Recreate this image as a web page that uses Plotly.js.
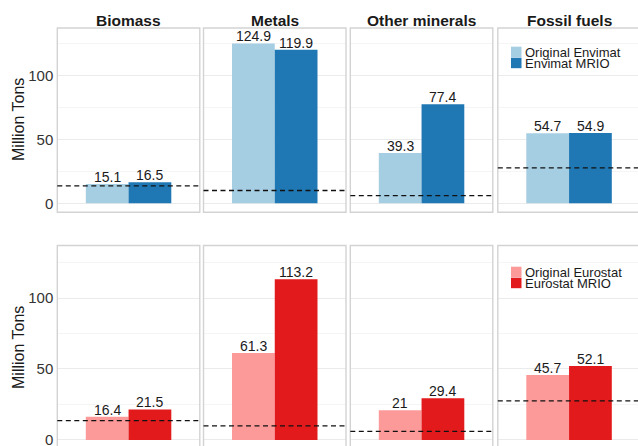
<!DOCTYPE html>
<html>
<head>
<meta charset="utf-8">
<script src="https://cdn.plot.ly/plotly-3.0.1.min.js"></script>
<style>
  html, body { margin: 0; padding: 0; background: #fff; }
  #chart { width: 638px; height: 446px; }
</style>
</head>
<body>
<div id="chart"></div>
<script>
// Material categories (one facet column each)
const categories = ["Biomass", "Metals", "Other minerals", "Fossil fuels"];

// Envimat row (million tons)
const envimatOriginal = [15.1, 124.9, 39.3, 54.7];
const envimatMRIO     = [16.5, 119.9, 77.4, 54.9];

// Eurostat row (million tons)
const eurostatOriginal = [16.4, 61.3, 21, 45.7];
const eurostatMRIO     = [21.5, 113.2, 29.4, 52.1];

// Dashed reference level per category
const referenceLevel = [13.6, 10.0, 6.0, 27.6];

const yTickVals = [0, 50, 100];
const yTickText = ["0", "50", "100"];
const yAxisTitle = "Million Tons";

const rows = [
  { names: ["Original Envimat", "Envimat MRIO"], series: [envimatOriginal, envimatMRIO],
    colors: ["#a6cee3", "#1f78b4"] },
  { names: ["Original Eurostat", "Eurostat MRIO"], series: [eurostatOriginal, eurostatMRIO],
    colors: ["#fb9a99", "#e31a1c"] }
];

// ---- layout geometry (pixels) ----
const W = 638, H = 446;
const fx = p => p / W;
const fy = p => 1 - p / H;
const panelLeft = [57.3, 203.5, 350.3, 497.8];
const panelW = 142.5;
const BARGAP = 0.4;
// half of one bar's width, in pixels: bar centres sit this far from the category centre
const barHalf = (1 - BARGAP) / 4 * panelW;
// per row: top, bottom (full panel), visible bottom, y value range
const rowGeom = [
  { top: 28, bottom: 212.3, visBottom: 212.3, range: [-7.03, 136.95], title: 120 },
  { top: 245.5, bottom: 449.7, visBottom: 446, range: [-4.23, 136.97], title: 348 }
];

const font = "Liberation Sans, Arial, sans-serif";
const traces = [];
const layout = {
  width: W, height: H,
  margin: { l: 0, r: 0, t: 0, b: 0 },
  paper_bgcolor: "#fff", plot_bgcolor: "#fff",
  showlegend: false,
  barmode: "group", bargap: BARGAP, bargroupgap: 0,
  font: { family: font, color: "#1a1a1a" },
  shapes: [], annotations: []
};

rows.forEach((row, r) => {
  const g = rowGeom[r];
  categories.forEach((cat, c) => {
    const k = r * 4 + c + 1;
    const ax = k === 1 ? "" : String(k);
    const L = panelLeft[c];
    const R = Math.min(L + panelW, W);
    const visFrac = (R - L) / panelW;

    row.series.forEach((vals, s) => {
      traces.push({
        type: "bar",
        x: [cat], y: [vals[c]],
        name: row.names[s],
        xaxis: "x" + ax, yaxis: "y" + ax,
        marker: { color: row.colors[s], line: { width: 0 } },
        hoverinfo: "x+y"
      });
      // value label just above the bar
      layout.annotations.push({
        text: String(vals[c]),
        xref: "x" + ax, yref: "y" + ax,
        x: cat, y: vals[c],
        xshift: (s === 0 ? -1 : 1) * barHalf, yshift: 7,
        xanchor: "center", yanchor: "middle", showarrow: false,
        font: { size: 14, color: "#1a1a1a", family: font }
      });
    });

    layout["xaxis" + ax] = {
      domain: [fx(L), fx(R)],
      anchor: "y" + ax,
      type: "category",
      range: [-0.5, -0.5 + visFrac],
      showgrid: false, zeroline: false, showline: false,
      showticklabels: false, ticks: "", fixedrange: true
    };
    layout["yaxis" + ax] = {
      domain: [fy(g.visBottom), fy(g.top)],
      anchor: "x" + ax,
      range: g.range,
      tickvals: yTickVals, ticktext: yTickText,
      showticklabels: c === 0,
      ticklabeloverflow: "allow",
      tickfont: { size: 15, color: "#333", family: font },
      ticks: "", ticklabelstandoff: 3,
      showgrid: true, gridcolor: "#ebebeb", gridwidth: 1,
      minor: { tickvals: [25, 75, 125], showgrid: true, gridcolor: "#f5f5f5", gridwidth: 1, ticks: "" },
      zeroline: false, showline: false, fixedrange: true
    };

    // panel border
    layout.shapes.push({
      type: "rect", xref: "paper", yref: "paper",
      x0: fx(L), x1: fx(L + panelW), y0: fy(g.bottom), y1: fy(g.top),
      line: { color: "#d3d3d3", width: 1.4 }, fillcolor: "rgba(0,0,0,0)", layer: "above"
    });
    // dashed reference level
    layout.shapes.push({
      type: "line", xref: "x" + ax + " domain", yref: "y" + ax,
      x0: 0, x1: 1, y0: referenceLevel[c], y1: referenceLevel[c],
      line: { color: "#111", width: 1.3, dash: "5px,3.5px" }, layer: "above"
    });

    // facet titles on the top row
    if (r === 0) {
      layout.annotations.push({
        text: "<b>" + cat + "</b>", xref: "paper", yref: "paper",
        x: fx(L + panelW / 2), y: fy(20), xanchor: "center", yanchor: "middle",
        showarrow: false, font: { size: 15.5, color: "#1a1a1a", family: font }
      });
    }
  });

  // y axis title for the row
  layout.annotations.push({
    text: yAxisTitle, xref: "paper", yref: "paper",
    x: fx(18), y: fy(g.title), xanchor: "center", yanchor: "middle",
    textangle: -90, showarrow: false,
    font: { size: 16, color: "#1a1a1a", family: font }
  });

  // legend inside the last panel of the row
  const legTop = r === 0 ? 46.7 : 266.7;
  row.names.forEach((nm, s) => {
    const y0 = legTop + s * 11;
    layout.shapes.push({
      type: "rect", xref: "paper", yref: "paper",
      x0: fx(511), x1: fx(521.5), y0: fy(y0 + 10.5), y1: fy(y0),
      line: { width: 0 }, fillcolor: row.colors[s], layer: "above"
    });
    layout.annotations.push({
      text: nm, xref: "paper", yref: "paper",
      x: fx(522.5), y: fy(y0 + 5.5), xanchor: "left", yanchor: "middle",
      showarrow: false, font: { size: 13, color: "#1a1a1a", family: font }
    });
  });
});

Plotly.newPlot("chart", traces, layout, { displayModeBar: false, staticPlot: true });
</script>
</body>
</html>
